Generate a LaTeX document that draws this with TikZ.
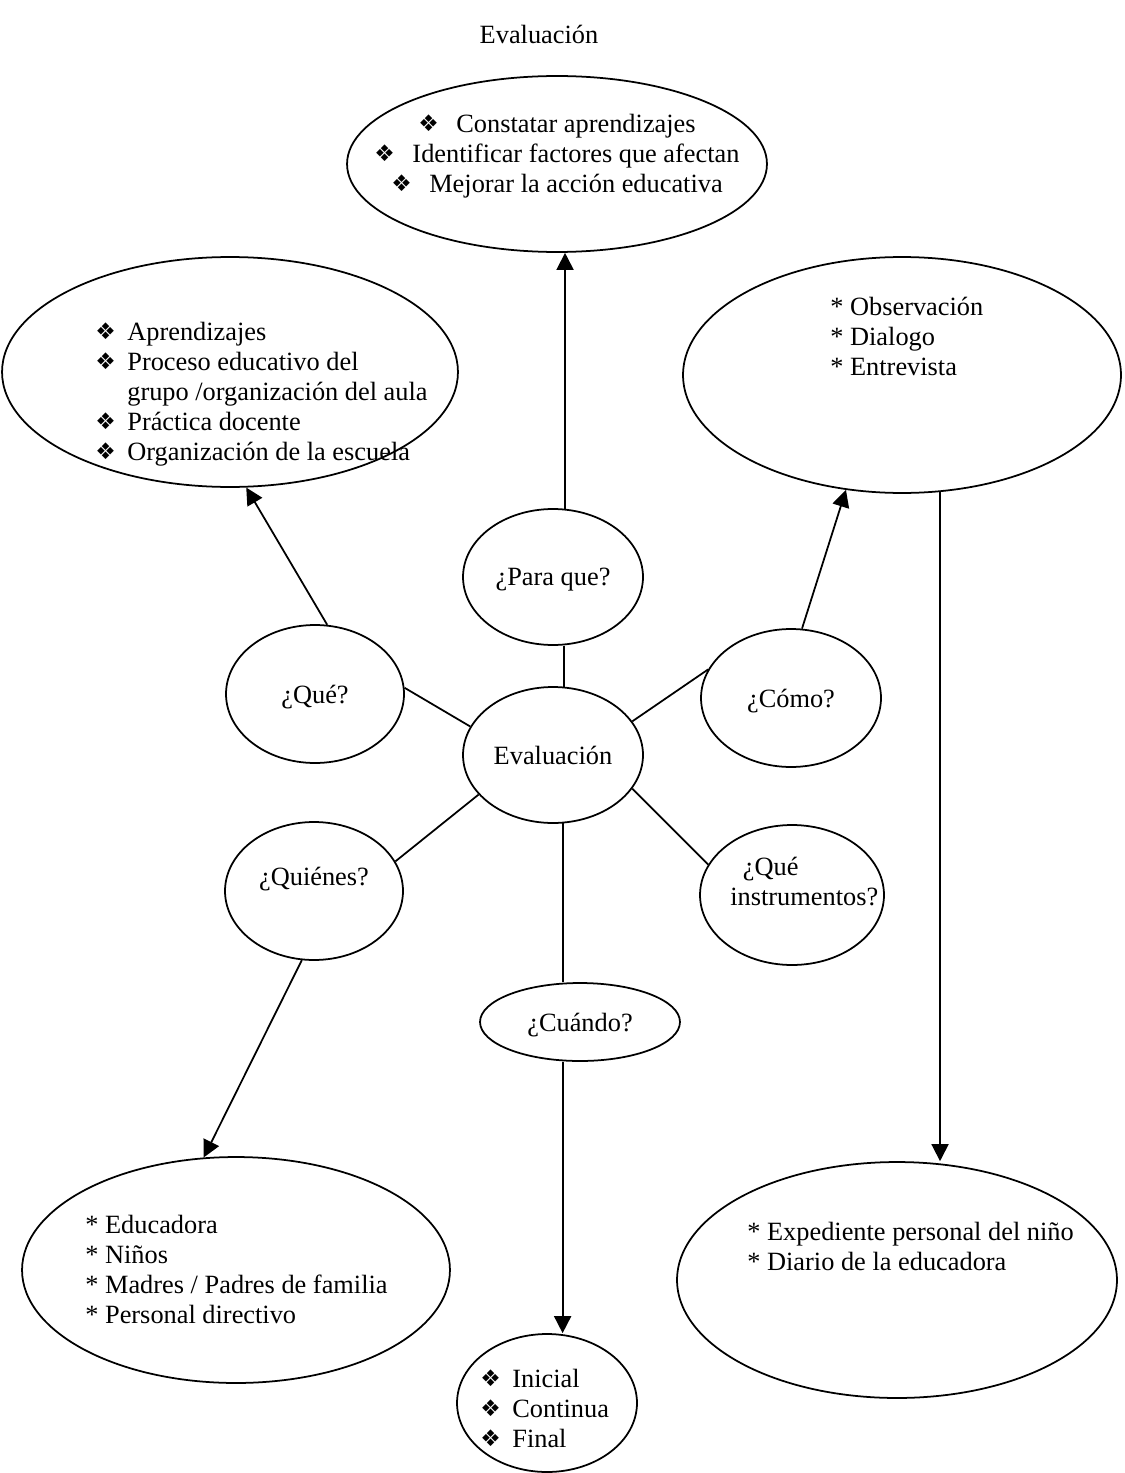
\documentclass[tikz,border=0pt]{standalone}
\usepackage{fontspec}
\setmainfont{Liberation Serif}
\newfontfamily\dingfont{DejaVu Sans}
\usepackage{tikz}
\usetikzlibrary{arrows.meta,positioning,calc,shapes.geometric}
\newcommand{\qfont}{\fontsize{15}{17}\selectfont}
\newcommand{\dia}[1][0.64cm]{\makebox[#1][l]{\raisebox{0.5pt}{\dingfont\fontsize{13}{13}\selectfont ❖}}}
\tikzset{
  blob/.style={draw=black, ellipse, line width=1pt, inner sep=0pt, align=center, text depth=0pt, font=\qfont},
  itemtxt/.style={inner sep=0pt, align=left, font=\qfont},
  arrow/.style={-{Triangle[length=3.4mm,width=3.4mm]}, line width=1pt},
  link/.style={line width=1pt}
}

\begin{document}
\begin{tikzpicture}[x=0.02cm, y=-0.02cm]
\fill[white] (0,0) rectangle (1125,1473);
\useasboundingbox (0,0) rectangle (1125,1473);
% title
\node[font=\qfont] (title) at (539,34) {Evaluación};
% outer ellipses (answers)
\node[blob, minimum width=8.4cm, minimum height=3.52cm] (top) at (557,164) {};
\node[blob, minimum width=9.12cm, minimum height=4.6cm] (quelist) at (230,372) {};
\node[blob, minimum width=8.76cm, minimum height=4.72cm] (comolist) at (902,375) {};
\node[blob, minimum width=8.56cm, minimum height=4.52cm] (quieneslist) at (236,1270) {};
\node[blob, minimum width=8.8cm, minimum height=4.72cm] (instrlist) at (897,1280) {};
\node[blob, minimum width=3.6cm, minimum height=2.76cm] (cuandolist) at (547,1403) {};
% answer texts
\node[itemtxt, anchor=north, align=center] (toptxt) at (557,114) {\dia[0.76cm]Constatar aprendizajes\\ \dia[0.76cm]Identificar factores que afectan\\ \dia[0.76cm]Mejorar la acción educativa};
\node[itemtxt, anchor=north west] (quetxt) at (95,322) {\dia Aprendizajes\\ \dia Proceso educativo del\\ \hspace*{0.64cm}grupo /organización del aula\\ \dia Práctica docente\\ \dia Organización de la escuela};
\node[itemtxt, anchor=north west] (comotxt) at (830,297) {* Observación\\{}* Dialogo\\{}* Entrevista};
\node[itemtxt, anchor=north west] (quienestxt) at (85,1215) {* Educadora\\{}* Niños\\{}* Madres / Padres de familia\\{}* Personal directivo};
\node[itemtxt, anchor=north west] (instrtxt) at (747,1222) {* Expediente personal del niño\\{}* Diario de la educadora};
\node[itemtxt, anchor=north west] (cuandotxt) at (480,1369) {\dia Inicial\\ \dia Continua\\ \dia Final};
% questions
\node[blob, minimum width=3.6cm, minimum height=2.72cm] (para) at (553,577) {¿Para que?};
\node[blob, minimum width=3.56cm, minimum height=2.76cm] (que) at (315,694) {¿Qué?};
\node[blob, minimum width=3.6cm, minimum height=2.76cm] (como) at (791,698) {¿Cómo?};
\node[blob, minimum width=3.6cm, minimum height=2.72cm] (eval) at (553,755) {Evaluación};
\node[blob, minimum width=3.56cm, minimum height=2.76cm] (quienes) at (314,891) {};
\node[itemtxt, anchor=base] (quienesq) at (314,885) {¿Quiénes?};
\node[blob, minimum width=3.68cm, minimum height=2.8cm] (instr) at (792,895) {};
\node[itemtxt, anchor=north west] (instrq) at (730,857) {\hspace*{0.25cm}¿Qué\\ instrumentos?};
\node[blob, minimum width=4cm, minimum height=1.56cm] (cuando) at (580,1022) {¿Cuándo?};
% connectors
\draw[link] (eval.81) -- (eval.81 |- para.south);
\draw[arrow] (para.80) -- (para.80 |- top.south);
\draw[link] (eval.161) -- (que.4);
\draw[link] (eval.23) -- (como.161);
\draw[link] (eval.208) -- (quienes.20);
\draw[link] (eval.-23) -- (instr.160);
\draw[link] (eval.-82) -- (eval.-82 |- cuando.north);
\draw[arrow] (que.80) -- (quelist.-82);
\draw[arrow] (como.81) -- (comolist.-116);
\draw[arrow] (comolist.-72) -- (comolist.-72 |- instrlist.north);
\draw[arrow] (quienes.-100) -- (quieneslist.106);
\draw[arrow] (eval.-82 |- cuando.south) -- (eval.-82 |- cuandolist.north);
\end{tikzpicture}
\end{document}
